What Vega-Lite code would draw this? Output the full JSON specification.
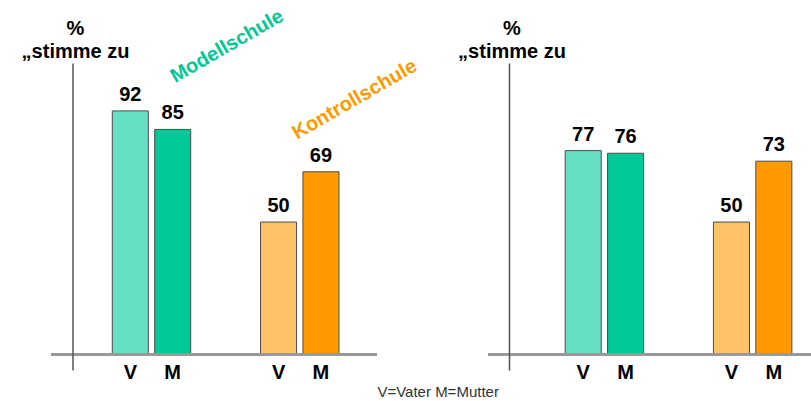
{
  "$schema": "https://vega.github.io/schema/vega-lite/v6.json",
  "padding": {"left": 21, "top": 5, "right": 0, "bottom": 0},
  "background": "white",
  "bounds": "flush",
  "spacing": 111,
  "config": {"view": {"stroke": null}, "font": "Liberation Sans"},
  "title": {"text": "V=Vater M=Mutter", "orient": "bottom", "anchor": "middle", "font": "Liberation Sans", "fontSize": 15, "fontWeight": "normal", "color": "#333333", "offset": 2, "dx": 20},
  "datasets": {
    "bars": [
      {"panel": "links", "schule": "Modellschule", "elternteil": "V", "serie": "Modellschule V", "wert": 92},
      {"panel": "links", "schule": "Modellschule", "elternteil": "M", "serie": "Modellschule M", "wert": 85},
      {"panel": "links", "schule": "Kontrollschule", "elternteil": "V", "serie": "Kontrollschule V", "wert": 50},
      {"panel": "links", "schule": "Kontrollschule", "elternteil": "M", "serie": "Kontrollschule M", "wert": 69},
      {"panel": "rechts", "schule": "Modellschule", "elternteil": "V", "serie": "Modellschule V", "wert": 77},
      {"panel": "rechts", "schule": "Modellschule", "elternteil": "M", "serie": "Modellschule M", "wert": 76},
      {"panel": "rechts", "schule": "Kontrollschule", "elternteil": "V", "serie": "Kontrollschule V", "wert": 50},
      {"panel": "rechts", "schule": "Kontrollschule", "elternteil": "M", "serie": "Kontrollschule M", "wert": 73}
    ]
  },
  "hconcat": [
    {
      "width": 326,
      "height": 307,
      "data": {"name": "bars"},
      "transform": [{"filter": "datum.panel === 'links'"}],
      "layer": [
        {
          "mark": {"type": "bar", "stroke": "#4d4d4d", "strokeWidth": 1},
          "encoding": {
            "x": {"field": "schule", "type": "nominal", "sort": ["Modellschule", "Kontrollschule"], "scale": {"paddingInner": 0.471, "paddingOuter": 0.335, "align": 0.617}, "axis": null},
            "xOffset": {"field": "elternteil", "type": "nominal", "sort": ["V", "M"], "scale": {"paddingInner": 0.15, "paddingOuter": 0}},
            "y": {"field": "wert", "type": "quantitative", "scale": {"domain": [-5.9, 110.1], "nice": false, "zero": false},
              "axis": {"title": ["%", "„stimme zu"], "titleAngle": 0, "titleAlign": "center", "titleBaseline": "alphabetic", "titleX": 2.5, "titleY": -28.3, "titleLineHeight": 23, "titleFont": "Liberation Sans", "titleFontSize": 20, "titleFontWeight": "bold", "titleColor": "black", "offset": -21.5, "domainColor": "#555555", "domainWidth": 1.5, "ticks": false, "labels": false, "grid": false, "zindex": 2}},
            "y2": {"datum": 0},
            "color": {"field": "serie", "type": "nominal", "scale": {"domain": ["Modellschule V", "Modellschule M", "Kontrollschule V", "Kontrollschule M"], "range": ["#66E0C4", "#00C896", "#FFC266", "#FF9900"]}, "legend": null}
          }
        },
        {
          "mark": {"type": "rule", "color": "#999999", "strokeWidth": 2.5},
          "encoding": {"y": {"datum": 0, "type": "quantitative"}}
        },
        {
          "mark": {"type": "text", "font": "Liberation Sans", "fontSize": 20, "fontWeight": "bold", "baseline": "alphabetic", "dy": -10, "color": "black"},
          "encoding": {
            "x": {"field": "schule", "type": "nominal", "sort": ["Modellschule", "Kontrollschule"], "axis": null},
            "xOffset": {"field": "elternteil", "type": "nominal", "sort": ["V", "M"]},
            "y": {"field": "wert", "type": "quantitative"},
            "text": {"field": "wert", "type": "quantitative"}
          }
        },
        {
          "mark": {"type": "text", "font": "Liberation Sans", "fontSize": 20, "fontWeight": "bold", "baseline": "alphabetic", "color": "black"},
          "encoding": {
            "x": {"field": "schule", "type": "nominal", "sort": ["Modellschule", "Kontrollschule"], "axis": null},
            "xOffset": {"field": "elternteil", "type": "nominal", "sort": ["V", "M"]},
            "y": {"datum": -9.4, "type": "quantitative"},
            "text": {"field": "elternteil", "type": "nominal"}
          }
        },
        {
          "data": {"values": [{"schule": "Modellschule", "label": "Modellschule"}]},
          "mark": {"type": "text", "font": "Liberation Sans", "fontSize": 20, "fontWeight": "bold", "color": "#00C896", "angle": 330, "align": "center", "baseline": "middle"},
          "encoding": {
            "x": {"field": "schule", "type": "nominal", "sort": ["Modellschule", "Kontrollschule"], "bandPosition": 1.463, "axis": null},
            "y": {"datum": 116.4, "type": "quantitative"},
            "text": {"field": "label", "type": "nominal"}
          }
        },
        {
          "data": {"values": [{"schule": "Kontrollschule", "label": "Kontrollschule"}]},
          "mark": {"type": "text", "font": "Liberation Sans", "fontSize": 20, "fontWeight": "bold", "color": "#FF9900", "angle": 330, "align": "center", "baseline": "middle"},
          "encoding": {
            "x": {"field": "schule", "type": "nominal", "sort": ["Modellschule", "Kontrollschule"], "bandPosition": 1.2, "axis": null},
            "y": {"datum": 96.3, "type": "quantitative"},
            "text": {"field": "label", "type": "nominal"}
          }
        }
      ]
    },
    {
      "width": 326,
      "height": 307,
      "data": {"name": "bars"},
      "transform": [{"filter": "datum.panel === 'rechts'"}],
      "layer": [
        {
          "mark": {"type": "bar", "stroke": "#4d4d4d", "strokeWidth": 1},
          "encoding": {
            "x": {"field": "schule", "type": "nominal", "sort": ["Modellschule", "Kontrollschule"], "scale": {"paddingInner": 0.471, "paddingOuter": 0.335, "align": 0.777}, "axis": null},
            "xOffset": {"field": "elternteil", "type": "nominal", "sort": ["V", "M"], "scale": {"paddingInner": 0.15, "paddingOuter": 0}},
            "y": {"field": "wert", "type": "quantitative", "scale": {"domain": [-5.9, 110.1], "nice": false, "zero": false},
              "axis": {"title": ["%", "„stimme zu"], "titleAngle": 0, "titleAlign": "center", "titleBaseline": "alphabetic", "titleX": 2.5, "titleY": -28.3, "titleLineHeight": 23, "titleFont": "Liberation Sans", "titleFontSize": 20, "titleFontWeight": "bold", "titleColor": "black", "offset": -21, "domainColor": "#555555", "domainWidth": 1.5, "ticks": false, "labels": false, "grid": false, "zindex": 2}},
            "y2": {"datum": 0},
            "color": {"field": "serie", "type": "nominal", "scale": {"domain": ["Modellschule V", "Modellschule M", "Kontrollschule V", "Kontrollschule M"], "range": ["#66E0C4", "#00C896", "#FFC266", "#FF9900"]}, "legend": null}
          }
        },
        {
          "mark": {"type": "rule", "color": "#999999", "strokeWidth": 2.5},
          "encoding": {"y": {"datum": 0, "type": "quantitative"}}
        },
        {
          "mark": {"type": "text", "font": "Liberation Sans", "fontSize": 20, "fontWeight": "bold", "baseline": "alphabetic", "dy": -10, "color": "black"},
          "encoding": {
            "x": {"field": "schule", "type": "nominal", "sort": ["Modellschule", "Kontrollschule"], "axis": null},
            "xOffset": {"field": "elternteil", "type": "nominal", "sort": ["V", "M"]},
            "y": {"field": "wert", "type": "quantitative"},
            "text": {"field": "wert", "type": "quantitative"}
          }
        },
        {
          "mark": {"type": "text", "font": "Liberation Sans", "fontSize": 20, "fontWeight": "bold", "baseline": "alphabetic", "color": "black"},
          "encoding": {
            "x": {"field": "schule", "type": "nominal", "sort": ["Modellschule", "Kontrollschule"], "axis": null},
            "xOffset": {"field": "elternteil", "type": "nominal", "sort": ["V", "M"]},
            "y": {"datum": -9.4, "type": "quantitative"},
            "text": {"field": "elternteil", "type": "nominal"}
          }
        }
      ]
    }
  ]
}
